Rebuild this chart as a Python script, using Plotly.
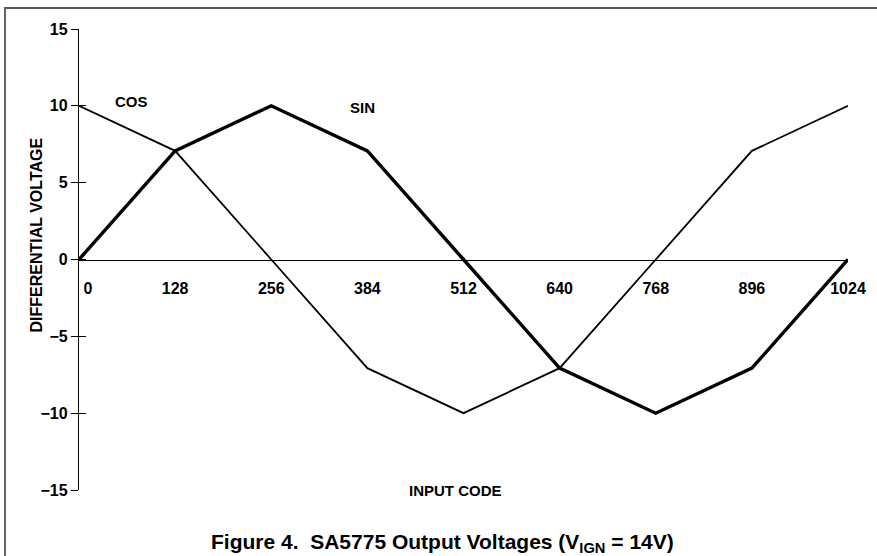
import plotly.graph_objects as go

# ---- data ----
input_code = [0, 128, 256, 384, 512, 640, 768, 896, 1024]
cos_volts = [10, 7.07, 0, -7.07, -10, -7.07, 0, 7.07, 10]
sin_volts = [0, 7.07, 10, 7.07, 0, -7.07, -10, -7.07, 0]
x_tick_vals = [0, 128, 256, 384, 512, 640, 768, 896, 1024]
x_tick_text = ["\u00a0\u00a0\u00a0\u00a00", "128", "256", "384", "512", "640", "768", "896", "1024"]
y_tick_vals = [-15, -10, -5, 0, 5, 10, 15]
y_tick_text = ["\u221215", "\u221210", "\u22125", "0", "5", "10", "15"]

FONT = "Liberation Sans, Arial, sans-serif"
W, H = 877, 556
L, R, T, B = 79, 29, 29, 66

fig = go.Figure()
fig.add_trace(go.Scatter(x=input_code, y=cos_volts, mode="lines", name="COS",
                         yaxis="y2", line=dict(color="black", width=1.8)))
fig.add_trace(go.Scatter(x=input_code, y=sin_volts, mode="lines", name="SIN",
                         line=dict(color="black", width=3.4)))

def px_x(p):
    return (p - L) / (W - L - R)

def px_y(p):
    return (H - B - p) / (H - T - B)

fig.update_layout(
    width=W, height=H,
    margin=dict(l=L, r=R, t=T, b=B),
    paper_bgcolor="white", plot_bgcolor="white",
    showlegend=False,
    font=dict(family=FONT, color="black", size=16, weight="bold"),
    xaxis=dict(range=[0, 1024], anchor="free", position=0.5,
               showline=True, linecolor="black", linewidth=1.3,
               showgrid=False, zeroline=False,
               ticks="outside", ticklen=14, tickcolor="rgba(0,0,0,0)",
               tickvals=x_tick_vals, ticktext=x_tick_text,
               tickfont=dict(family=FONT, size=16, weight="bold")),
    yaxis=dict(range=[-15, 15], showline=True, linecolor="black", linewidth=1.3,
               showgrid=False, zeroline=False,
               ticks="outside", ticklen=7, tickwidth=1.2, tickcolor="black",
               tickvals=y_tick_vals, ticktext=y_tick_text,
               tickfont=dict(family=FONT, size=16, weight="bold")),
    yaxis2=dict(range=[-15, 15], overlaying="y", anchor="x", side="left",
                showline=False, showgrid=False, zeroline=False,
                ticks="inside", ticklen=7, tickwidth=1.2, tickcolor="black",
                tickvals=y_tick_vals, showticklabels=False),
)

def label(text, x, y, size, angle=0):
    fig.add_annotation(text=text, x=px_x(x), y=px_y(y), xref="paper", yref="paper",
                       xanchor="center", yanchor="middle", textangle=angle,
                       showarrow=False, font=dict(size=size, weight="bold", family=FONT))

label("COS", 131.5, 101, 15)
label("SIN", 362, 107.5, 15)
label("INPUT CODE", 455, 490, 15)
label("DIFFERENTIAL VOLTAGE", 36, 235.5, 16, -90)
label("Figure 4.\u00a0\u00a0SA5775 Output Voltages (V<sub>IGN</sub> = 14V)", 442.5, 543, 21)

# page border
fig.add_shape(type="rect", xref="paper", yref="paper",
              x0=px_x(5), x1=px_x(885), y0=px_y(8), y1=px_y(565),
              line=dict(color="#555555", width=1.8), fillcolor="rgba(0,0,0,0)", layer="below")

fig.write_html("out.html", config={"displayModeBar": False},
               post_script="document.body.style.margin='0px';")
